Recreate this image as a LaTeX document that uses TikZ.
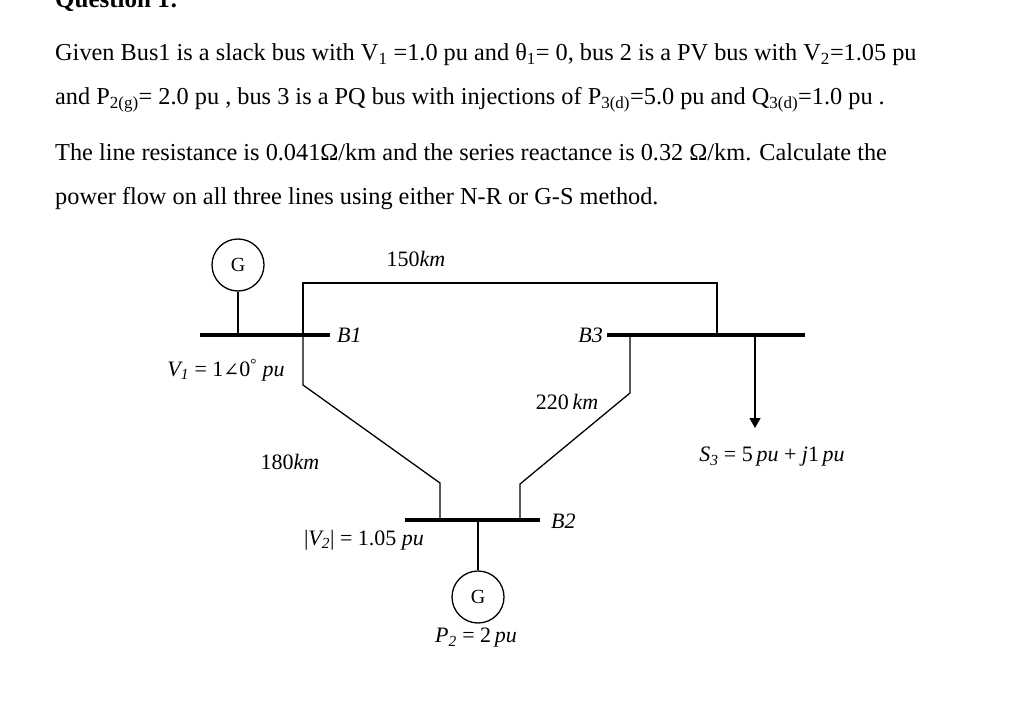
\documentclass[tikz,border=0pt]{standalone}
\usepackage{fontspec}
\setmainfont{Liberation Serif}
\newfontfamily\symfont{DejaVu Serif}
\usetikzlibrary{arrows.meta}
\begin{document}
\begin{tikzpicture}[x=1pt,y=-1pt,
  txt/.style={anchor=base west,inner sep=0,font=\fontsize{24.3}{28}\selectfont},
  lbl/.style={inner sep=1pt,font=\fontsize{22}{26}\selectfont\itshape},
  bus/.style={line width=3.6pt},
  wire/.style={line width=1.3pt},
  gen/.style={draw,circle,line width=1.3pt,minimum size=52pt,inner sep=0,font=\fontsize{20}{22}\selectfont}]
\useasboundingbox (0,0) rectangle (1024,703);
\node[txt,font=\fontsize{25}{28}\selectfont\bfseries] (q) at (55,8) {Question 1:};
\node[txt] (l1) at (55,61) {Given Bus1 is a slack bus with V\textsubscript{1} =1.0 pu and θ\textsubscript{1}= 0, bus 2 is a PV bus with V\textsubscript{2}=1.05 pu};
\node[txt] (l2) at (55,105) {and P\textsubscript{2(g)}= 2.0 pu , bus 3 is a PQ bus with injections of P\textsubscript{3(d)}=5.0 pu and Q\textsubscript{3(d)}=1.0 pu .};
\node[txt] (l3) at (55,161) {The line resistance is 0.041Ω/km and the series reactance is 0.32 Ω/km. Calculate the};
\node[txt] (l4) at (55,205) {power flow on all three lines using either N-R or G-S method.};
% buses
\coordinate (b1w) at (200,335); \coordinate (b1e) at (330,335);
\coordinate (b3w) at (607,335); \coordinate (b3e) at (805,335);
\coordinate (b2w) at (405,520); \coordinate (b2e) at (540,520);
\draw[bus] (b1w) -- (b1e);
\draw[bus] (b3w) -- (b3e);
\draw[bus] (b2w) -- (b2e);
\node[gen] (g1) at (238,265) {G};
\node[gen] (g2) at (478,597) {G};
\draw[wire] (g1) -- (238,335);
\draw[wire] (478,520) -- (g2);
\draw[wire] (303,335) -- (303,283) -- (717,283) -- (717,335);
\draw[wire] (303,335) -- (303,385) -- (440,483) -- (440,520);
\draw[wire] (630,335) -- (630,393) -- (520,484) -- (520,520);
\draw[wire,-{Triangle[width=11pt,length=10pt]}] (755,335) -- (755,428);
\node[lbl,anchor=west] (B1) at (336,335) {B1};
\node[lbl,anchor=east] (B3) at (604,335) {B3};
\node[lbl,anchor=west] (B2) at (550,521) {B2};
\node[lbl] (k150) at (416,259) {\upshape 150\itshape km};
\node[lbl] (k180) at (290,462) {\upshape 180\itshape km};
\node[lbl] (k220) at (567,402) {\upshape 220\,\itshape km};
\node[lbl] (v1) at (226,370) {V\textsubscript{1} \upshape= 1{\symfont\fontsize{19}{22}\selectfont ∠}0\textsuperscript{°} \itshape pu};
\node[lbl] (s3) at (772,457) {S\textsubscript{3} \upshape = 5\,\itshape pu \upshape + \itshape j\upshape1\,\itshape pu};
\node[lbl] (v2) at (364,540) {\upshape|\itshape V\textsubscript{2}\upshape| = 1.05 \itshape pu};
\node[lbl] (p2) at (476,638) {P\textsubscript{2} \upshape = 2\,\itshape pu};
\end{tikzpicture}
\end{document}
